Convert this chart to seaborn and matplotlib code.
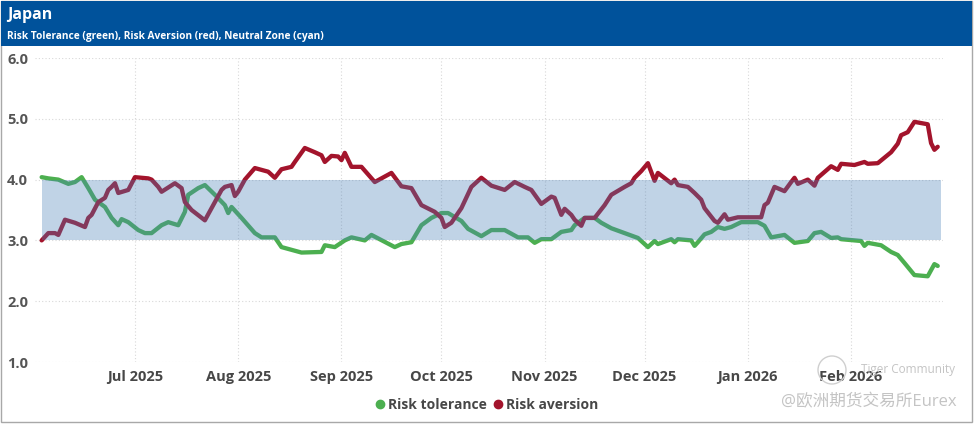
import matplotlib
matplotlib.use("Agg")
import matplotlib.pyplot as plt
import matplotlib.transforms as mtrans
from matplotlib.patches import Rectangle, Circle
from matplotlib.lines import Line2D
import seaborn as sns
import pandas as pd

# ---------------- data ----------------
tol_dates = [
    "2025-06-03", "2025-06-05", "2025-06-08", "2025-06-11", "2025-06-13", "2025-06-15",
    "2025-06-17", "2025-06-19", "2025-06-22", "2025-06-24", "2025-06-26", "2025-06-27",
    "2025-06-29", "2025-07-02", "2025-07-04", "2025-07-06", "2025-07-09", "2025-07-11",
    "2025-07-14", "2025-07-16", "2025-07-17", "2025-07-20", "2025-07-22", "2025-07-25",
    "2025-07-28", "2025-07-29", "2025-07-30", "2025-08-02", "2025-08-06", "2025-08-08",
    "2025-08-12", "2025-08-14", "2025-08-20", "2025-08-26", "2025-08-27", "2025-08-30",
    "2025-09-02", "2025-09-04", "2025-09-08", "2025-09-10", "2025-09-17", "2025-09-19",
    "2025-09-22", "2025-09-25", "2025-09-28", "2025-10-01", "2025-10-03", "2025-10-07",
    "2025-10-09", "2025-10-13", "2025-10-16", "2025-10-20", "2025-10-24", "2025-10-27",
    "2025-10-29", "2025-10-31", "2025-11-03", "2025-11-06", "2025-11-09", "2025-11-10",
    "2025-11-13", "2025-11-16", "2025-11-18", "2025-11-21", "2025-11-25", "2025-11-29",
    "2025-12-02", "2025-12-04", "2025-12-05", "2025-12-09", "2025-12-10", "2025-12-11",
    "2025-12-15", "2025-12-16", "2025-12-17", "2025-12-19", "2025-12-21", "2025-12-23",
    "2025-12-25", "2025-12-27", "2025-12-30", "2026-01-04", "2026-01-06", "2026-01-08",
    "2026-01-12", "2026-01-15", "2026-01-19", "2026-01-21", "2026-01-23", "2026-01-26",
    "2026-01-28", "2026-01-29", "2026-02-04", "2026-02-05", "2026-02-06", "2026-02-10",
    "2026-02-13", "2026-02-15", "2026-02-17", "2026-02-20", "2026-02-24", "2026-02-26",
    "2026-02-27",
]
tol_values = [
    4.04, 4.02, 4.00, 3.93, 3.96, 4.04,
    3.86, 3.67, 3.55, 3.37, 3.25, 3.35,
    3.30, 3.17, 3.12, 3.12, 3.25, 3.30,
    3.25, 3.47, 3.75, 3.86, 3.91, 3.75,
    3.58, 3.45, 3.55, 3.37, 3.12, 3.05,
    3.05, 2.89, 2.80, 2.81, 2.92, 2.89,
    3.00, 3.05, 3.00, 3.09, 2.89, 2.94,
    2.97, 3.25, 3.37, 3.45, 3.45, 3.32,
    3.19, 3.07, 3.17, 3.17, 3.05, 3.05,
    2.96, 3.02, 3.02, 3.14, 3.17, 3.25,
    3.37, 3.37, 3.29, 3.20, 3.12, 3.04,
    2.89, 2.99, 2.94, 3.02, 2.97, 3.02,
    3.00, 2.91, 2.97, 3.10, 3.14, 3.22,
    3.19, 3.22, 3.30, 3.30, 3.24, 3.05,
    3.09, 2.96, 2.99, 3.12, 3.14, 3.04,
    3.05, 3.02, 2.99, 2.91, 2.96, 2.92,
    2.81, 2.76, 2.63, 2.43, 2.41, 2.61,
    2.58,
]

av_dates = [
    "2025-06-03", "2025-06-05", "2025-06-07", "2025-06-08", "2025-06-10", "2025-06-13",
    "2025-06-16", "2025-06-17", "2025-06-18", "2025-06-20", "2025-06-22", "2025-06-23",
    "2025-06-24", "2025-06-25", "2025-06-26", "2025-06-29", "2025-07-01", "2025-07-05",
    "2025-07-06", "2025-07-08", "2025-07-09", "2025-07-13", "2025-07-15", "2025-07-16",
    "2025-07-18", "2025-07-22", "2025-07-25", "2025-07-27", "2025-07-28", "2025-07-30",
    "2025-07-31", "2025-08-01", "2025-08-03", "2025-08-06", "2025-08-10", "2025-08-12",
    "2025-08-14", "2025-08-17", "2025-08-18", "2025-08-21", "2025-08-24", "2025-08-26",
    "2025-08-27", "2025-08-29", "2025-08-31", "2025-09-01", "2025-09-02", "2025-09-04",
    "2025-09-07", "2025-09-11", "2025-09-16", "2025-09-19", "2025-09-22", "2025-09-25",
    "2025-09-29", "2025-10-01", "2025-10-02", "2025-10-04", "2025-10-07", "2025-10-10",
    "2025-10-13", "2025-10-16", "2025-10-20", "2025-10-23", "2025-10-26", "2025-10-28",
    "2025-10-31", "2025-11-03", "2025-11-04", "2025-11-06", "2025-11-07", "2025-11-09",
    "2025-11-10", "2025-11-12", "2025-11-13", "2025-11-16", "2025-11-19", "2025-11-21",
    "2025-11-25", "2025-11-27", "2025-11-28", "2025-11-30", "2025-12-02", "2025-12-04",
    "2025-12-05", "2025-12-09", "2025-12-10", "2025-12-11", "2025-12-14", "2025-12-16",
    "2025-12-18", "2025-12-19", "2025-12-22", "2025-12-23", "2025-12-25", "2025-12-26",
    "2025-12-29", "2026-01-05", "2026-01-06", "2026-01-07", "2026-01-09", "2026-01-12",
    "2026-01-14", "2026-01-15", "2026-01-16", "2026-01-19", "2026-01-21", "2026-01-22",
    "2026-01-26", "2026-01-28", "2026-01-29", "2026-02-02", "2026-02-05", "2026-02-06",
    "2026-02-09", "2026-02-13", "2026-02-15", "2026-02-16", "2026-02-18", "2026-02-20",
    "2026-02-24", "2026-02-25", "2026-02-26", "2026-02-27",
]
av_values = [
    3.00, 3.12, 3.12, 3.09, 3.34, 3.29,
    3.22, 3.37, 3.42, 3.63, 3.70, 3.83,
    3.88, 3.94, 3.78, 3.83, 4.04, 4.02,
    4.00, 3.88, 3.80, 3.94, 3.86, 3.63,
    3.50, 3.33, 3.63, 3.83, 3.88, 3.91,
    3.73, 3.80, 4.00, 4.19, 4.13, 4.03,
    4.17, 4.21, 4.29, 4.52, 4.45, 4.40,
    4.29, 4.39, 4.38, 4.32, 4.44, 4.21,
    4.21, 3.96, 4.11, 3.89, 3.86, 3.58,
    3.47, 3.37, 3.22, 3.29, 3.53, 3.88,
    4.03, 3.90, 3.83, 3.96, 3.88, 3.83,
    3.60, 3.72, 3.70, 3.42, 3.52, 3.42,
    3.34, 3.24, 3.37, 3.37, 3.58, 3.75,
    3.88, 3.94, 4.03, 4.14, 4.27, 3.98,
    4.11, 3.94, 4.00, 3.91, 3.88, 3.78,
    3.67, 3.53, 3.32, 3.29, 3.43, 3.34,
    3.38, 3.38, 3.58, 3.62, 3.88, 3.81,
    3.96, 4.03, 3.93, 4.00, 3.90, 4.03,
    4.22, 4.16, 4.26, 4.24, 4.29, 4.26,
    4.27, 4.45, 4.59, 4.73, 4.78, 4.95,
    4.91, 4.60, 4.49, 4.54,
]

zone_dates = ["2025-06-03", "2026-02-28"]
zone_low, zone_high = 3.0, 4.0

month_ticks = ["2025-07-01", "2025-08-01", "2025-09-01", "2025-10-01",
               "2025-11-01", "2025-12-01", "2026-01-01", "2026-02-01"]
month_labels = ["Jul 2025", "Aug 2025", "Sep 2025", "Oct 2025",
                "Nov 2025", "Dec 2025", "Jan 2026", "Feb 2026"]
y_ticks = [1.0, 2.0, 3.0, 4.0, 5.0, 6.0]

title = "Japan"
subtitle = "Risk Tolerance (green), Risk Aversion (red), Neutral Zone (cyan)"
series_names = ["Risk tolerance", "Risk aversion"]

# ---------------- style ----------------
GREEN = "#4caf50"
RED = "#a3142c"
ZONE = "#4b81b8"
HEADER = "#00529b"
TXT = "#474747"

sns.set_theme(style="white")
plt.rcParams["font.family"] = ["Open Sans", "Noto Sans CJK SC", "DejaVu Sans"]

W, H = 975, 424
fig = plt.figure(figsize=(W / 100, H / 100), dpi=100)
ax = fig.add_axes([35 / W, 1 - 362 / H, (943 - 35) / W, (362 - 58) / H])

tol_df = pd.DataFrame({"date": pd.to_datetime(tol_dates), "value": tol_values})
av_df = pd.DataFrame({"date": pd.to_datetime(av_dates), "value": av_values})

sns.lineplot(data=tol_df, x="date", y="value", ax=ax, color=GREEN, lw=3.1,
             zorder=2, solid_joinstyle="round", solid_capstyle="round")
sns.lineplot(data=av_df, x="date", y="value", ax=ax, color=RED, lw=3.1,
             zorder=2, solid_joinstyle="round", solid_capstyle="round")

zd = pd.to_datetime(zone_dates)
ax.fill_between(zd, zone_low, zone_high, color=ZONE, alpha=0.35, lw=0, zorder=3)

ax.set_xlim(pd.Timestamp("2025-06-01"), pd.Timestamp("2026-02-28 14:00"))
ax.set_ylim(1.0, 6.0)
ax.set_xticks(pd.to_datetime(month_ticks))
ax.set_xticklabels(month_labels, fontsize=10.5, fontweight="bold", color=TXT)
ax.set_yticks(y_ticks)
ax.set_yticklabels([f"{v:.1f}" for v in y_ticks], fontsize=10.5,
                   fontweight="bold", color="#555555")
ax.tick_params(axis="x", length=0, pad=6)
ax.tick_params(axis="y", length=0, pad=5)
ax.set_xlabel("")
ax.set_ylabel("")
ax.grid(True, linestyle=(0, (1, 2)), color="#d8d8d8", lw=0.8)
ax.set_axisbelow(True)
for s in ax.spines.values():
    s.set_visible(False)
ax.set_facecolor("none")

# header & card frame
ident = mtrans.IdentityTransform()
fig.add_artist(Rectangle((1, 2), 971, 421, transform=ident, fill=False,
                         edgecolor="#a8a8a8", lw=1.0, zorder=0))
fig.add_artist(Rectangle((1, H - 46), 971, 45, transform=ident,
                         facecolor=HEADER, edgecolor="none", zorder=1))
fig.text(7 / W, 1 - 15 / H, title, color="white", fontsize=11.5,
         fontweight="bold", va="center", ha="left")
fig.text(7 / W, 1 - 36 / H, subtitle, color="white", fontsize=7.3,
         fontweight="bold", va="center", ha="left")

# legend
handles = [Line2D([], [], ls="none", marker="o", ms=6, color=GREEN),
           Line2D([], [], ls="none", marker="o", ms=6, color=RED)]
leg = fig.legend(handles, series_names, loc="center", ncol=2,
                 bbox_to_anchor=(487 / W, 1 - 405 / H), frameon=False,
                 handlelength=0.6, handletextpad=0.25, columnspacing=0.5,
                 prop={"weight": "bold", "size": 10})
for t in leg.get_texts():
    t.set_color(TXT)

# watermark
fig.add_artist(Circle((832, H - 370), 14, transform=ident, fill=False,
                      edgecolor="#cfcfcf", lw=1.0))
fig.text(955 / W, 1 - 369 / H, "Tiger Community", color="#c4c4c4",
         fontsize=8.5, ha="right", va="center")
fig.text(957 / W, 1 - 402 / H, "@欧洲期货交易所Eurex", color="#c4c4c4",
         fontsize=12, ha="right", va="center")

fig.savefig("out.png", dpi=100)
